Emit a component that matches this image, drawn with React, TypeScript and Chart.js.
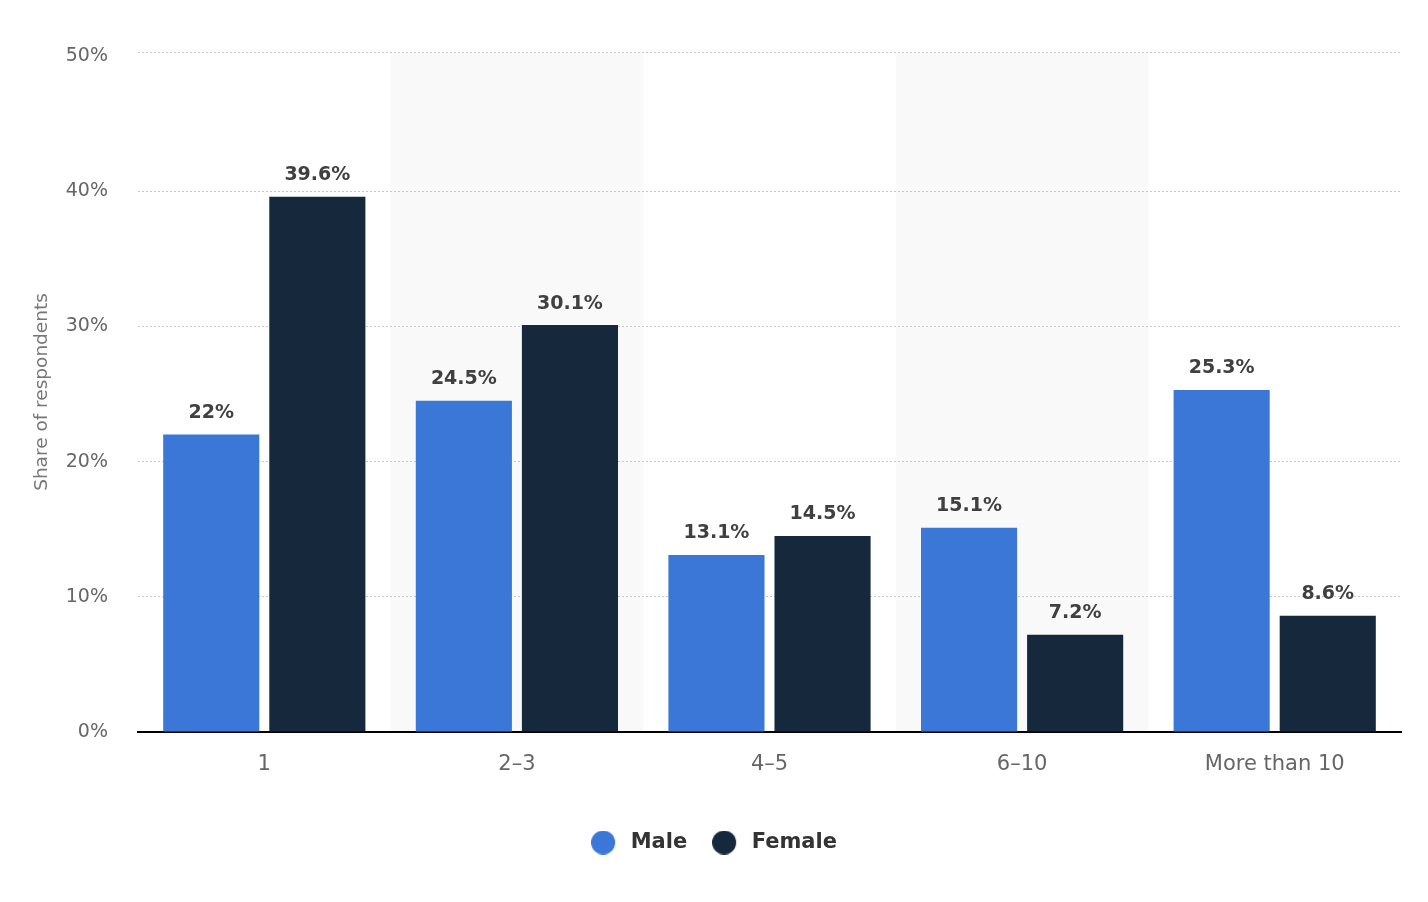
import React, { useEffect, useRef } from "react";
import { Chart, registerables } from "chart.js";

Chart.register(...registerables);

const categories = ["1", "2–3", "4–5", "6–10", "More than 10"];
const maleValues = [22, 24.5, 13.1, 15.1, 25.3];
const femaleValues = [39.6, 30.1, 14.5, 7.2, 8.6];
const maleLabels = ["22%", "24.5%", "13.1%", "15.1%", "25.3%"];
const femaleLabels = ["39.6%", "30.1%", "14.5%", "7.2%", "8.6%"];
const yTicks = [0, 10, 20, 30, 40, 50];
const yMax = 50.3;

const MALE_COLOR = "#3b77d6";
const FEMALE_COLOR = "#15283c";
const FONT = "'DejaVu Sans', sans-serif";

function makeDot(color: string, width: number) {
  const c = document.createElement("canvas");
  c.width = width;
  c.height = 24;
  const g = c.getContext("2d") as CanvasRenderingContext2D;
  g.fillStyle = color;
  g.beginPath();
  g.arc(12, 12, 12, 0, Math.PI * 2);
  g.fill();
  return c;
}

const bandPlugin = {
  id: "bands",
  beforeDraw(chart: any) {
    const { ctx, chartArea, scales } = chart;
    const x = scales.x;
    const w = (chartArea.right - chartArea.left) / categories.length;
    ctx.save();
    ctx.fillStyle = "#f9f9f9";
    categories.forEach((_, i) => {
      if (i % 2 === 1) {
        const c = x.getPixelForValue(i);
        ctx.fillRect(c - w / 2, chartArea.top + 1, w, chartArea.bottom - chartArea.top - 1);
      }
    });
    ctx.restore();
  },
};

const labelPlugin = {
  id: "valueLabels",
  afterDatasetsDraw(chart: any) {
    const { ctx } = chart;
    const sets = [maleLabels, femaleLabels];
    ctx.save();
    ctx.font = `bold 19px ${FONT}`;
    ctx.fillStyle = "#404040";
    ctx.textAlign = "center";
    ctx.textBaseline = "bottom";
    chart.data.datasets.forEach((_: any, di: number) => {
      const meta = chart.getDatasetMeta(di);
      meta.data.forEach((bar: any, i: number) => {
        ctx.fillText(sets[di][i], bar.x, bar.y - 12);
      });
    });
    ctx.restore();
  },
};

export default function App() {
  const ref = useRef<HTMLCanvasElement | null>(null);

  useEffect(() => {
    document.body.style.margin = "0";
    const dotW = 29;
    const dots = [makeDot(MALE_COLOR, dotW), makeDot(FEMALE_COLOR, dotW)];
    const chart = new Chart(ref.current as HTMLCanvasElement, {
      type: "bar",
      data: {
        labels: categories,
        datasets: [
          {
            label: "Male",
            data: maleValues,
            backgroundColor: MALE_COLOR,
            borderWidth: 0,
            barPercentage: 0.906,
            categoryPercentage: 0.84,
          },
          {
            label: "Female",
            data: femaleValues,
            backgroundColor: FEMALE_COLOR,
            borderWidth: 0,
            barPercentage: 0.906,
            categoryPercentage: 0.84,
          },
        ],
      },
      options: {
        responsive: false,
        animation: false,
        layout: { padding: { top: 52, right: 27, bottom: 39, left: 27 } },
        plugins: {
          tooltip: { enabled: false },
          legend: {
            position: "bottom",
            labels: {
              usePointStyle: true,
              pointStyleWidth: dotW,
              boxHeight: 17,
              padding: 25,
              color: "#333333",
              font: { family: FONT, size: 21, weight: "bold" },
              generateLabels(ch: any) {
                const base = (Chart as any).defaults.plugins.legend.labels.generateLabels(ch);
                return base.map((l: any, i: number) => ({ ...l, pointStyle: dots[i] }));
              },
            },
          },
        },
        scales: {
          x: {
            grid: { display: false, drawTicks: false },
            border: { display: true, color: "#000000", width: 2 },
            ticks: {
              color: "#666666",
              padding: 20,
              font: { family: FONT, size: 21 },
            },
            afterFit(scale: any) {
              scale.height = 75;
            },
          },
          y: {
            min: 0,
            max: yMax,
            afterBuildTicks(scale: any) {
              scale.ticks = [...yTicks, yMax].map((v) => ({ value: v }));
            },
            grid: {
              drawTicks: false,
              color: (c: any) => {
                const v = c.tick ? c.tick.value : 0;
                return v === 0 || v === 50 ? "rgba(0,0,0,0)" : "#c8c8c8";
              },
              lineWidth: 1,
            },
            border: { display: false, dash: [2, 2] },
            ticks: {
              color: "#666666",
              padding: 30,
              font: { family: FONT, size: 19 },
              callback: (v: any) => (yTicks.includes(v) ? `${v}%` : ""),
            },
            title: {
              display: true,
              text: "Share of respondents",
              color: "#777777",
              padding: { top: 4, bottom: 0 },
              font: { family: FONT, size: 18.5 },
            },
            afterFit(scale: any) {
              scale.width = 111;
            },
          },
        },
      },
      plugins: [bandPlugin, labelPlugin],
    } as any);
    return () => chart.destroy();
  }, []);

  return (
    <div style={{ position: "absolute", left: 0, top: 0, width: 1428, height: 902, background: "#fff" }}>
      <canvas ref={ref} width={1428} height={902} />
    </div>
  );
}
